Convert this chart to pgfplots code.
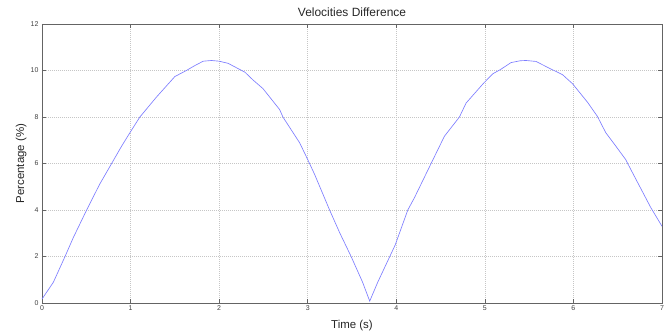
\documentclass[border=0pt]{standalone}
\usepackage{fontspec}
\setmainfont{Liberation Sans}
\usepackage{pgfplots}
\pgfplotsset{compat=1.18}
\definecolor{linecol}{RGB}{125,125,255}
\definecolor{axcol}{RGB}{100,100,100}
\begin{document}
\begin{tikzpicture}
\begin{axis}[
  scale only axis,
  width=620bp, height=279bp,
  xmin=0, xmax=7, ymin=0, ymax=12,
  xtick={0,1,...,7}, ytick={0,2,...,12},
  tick align=inside,
  major tick length=4bp,
  axis line style={axcol, line width=0.6bp},
  every tick/.style={axcol, line width=0.5bp},
  grid=major,
  major grid style={dash pattern=on 0.5bp off 1.5bp, gray!45, line width=0.5bp},
  /pgf/number format/assume math mode=true,
  tick label style={font=\fontsize{7}{8}\selectfont, text=black!75},
  xticklabel style={yshift=1bp},
  title={Velocities Difference},
  title style={at={(axis description cs:0.5,1.0072)}, anchor=base, font=\fontsize{12}{14}\selectfont, text=black!85},
  xlabel={Time (s)},
  xlabel style={at={(axis description cs:0.5,-0.09)}, anchor=base, font=\fontsize{11.5}{13}\selectfont, text=black!85},
  ylabel={Percentage (\%)},
  ylabel style={at={(axis description cs:-0.029,0.5)}, anchor=base, font=\fontsize{11.5}{13}\selectfont, text=black!85},
]
\addplot[linecol, line width=0.65bp] coordinates {
(0,0.17) (0.128,0.89) (0.26,2.0) (0.353,2.81) (0.504,4.0) (0.65,5.1)
(0.786,6.0) (0.898,6.74) (1.0,7.37) (1.105,8.0) (1.293,8.86) (1.5,9.74)
(1.63,10.0) (1.72,10.2) (1.82,10.4) (1.913,10.43) (2.0,10.4) (2.1,10.31)
(2.29,9.93) (2.38,9.6) (2.495,9.22) (2.683,8.32) (2.72,8.0) (2.909,6.89)
(3.0,6.17) (3.078,5.53) (3.247,4.0) (3.36,3.03) (3.49,2.0) (3.62,0.89)
(3.70,0.08) (3.79,0.89) (3.987,2.49) (4.13,4.0) (4.205,4.53) (4.393,6.0)
(4.543,7.17) (4.713,8.0) (4.788,8.6) (4.987,9.46) (5.09,9.86) (5.18,10.05)
(5.295,10.34) (5.4,10.42) (5.465,10.43) (5.577,10.39) (5.727,10.1) (5.877,9.82)
(5.99,9.43) (6.16,8.63) (6.27,8.03) (6.366,7.32) (6.48,6.74) (6.59,6.17)
(6.648,5.74) (6.874,4.1) (7.0,3.3)
};
\coordinate (ll) at (rel axis cs:0,0);
\coordinate (ur) at (rel axis cs:1,1);
\end{axis}
\pgfresetboundingbox
\path[use as bounding box] ([xshift=-42bp,yshift=-32bp]ll) rectangle ([xshift=10bp,yshift=24bp]ur);
\end{tikzpicture}
\end{document}
